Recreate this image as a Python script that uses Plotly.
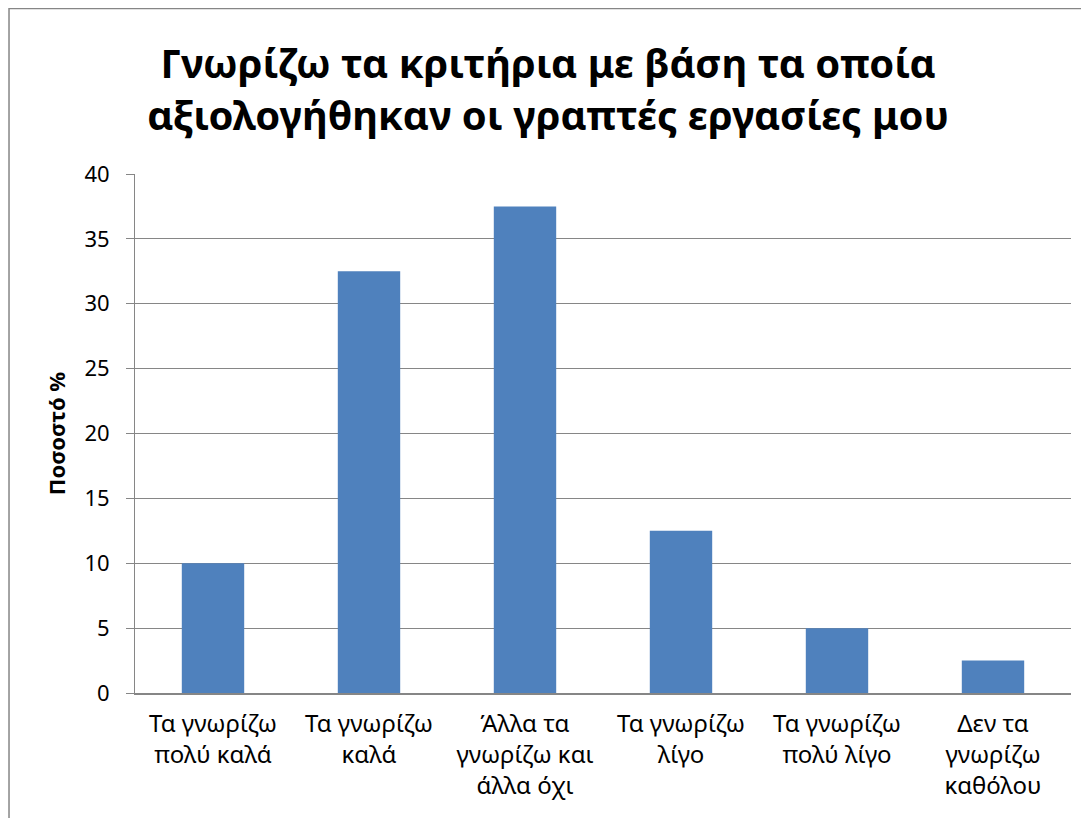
import plotly.graph_objects as go

# Survey answers and percentages
CATEGORIES = [
    "Τα γνωρίζω<br>πολύ καλά",
    "Τα γνωρίζω<br>καλά",
    "Άλλα τα<br>γνωρίζω και<br>άλλα όχι",
    "Τα γνωρίζω<br>λίγο",
    "Τα γνωρίζω<br>πολύ λίγο",
    "Δεν τα<br>γνωρίζω<br>καθόλου",
]
PERCENT = [10, 32.5, 37.5, 12.5, 5, 2.5]
Y_TICKS = [0, 5, 10, 15, 20, 25, 30, 35, 40]

TITLE = "Γνωρίζω τα κριτήρια με βάση τα οποία<br>αξιολογήθηκαν οι γραπτές εργασίες μου"
FONT = "Noto Sans"
GRID = "#868686"
BAR = "#4F81BD"

fig = go.Figure(go.Bar(
    x=CATEGORIES, y=PERCENT,
    marker=dict(color=BAR, line=dict(width=0)),
    width=0.4,
    hovertemplate="%{x}: %{y}%<extra></extra>",
))

# the page adds an 8px body margin, so the margins are shifted by that amount
fig.update_layout(
    width=1089, height=818,
    paper_bgcolor="white", plot_bgcolor="white",
    margin=dict(l=127, r=26, t=166, b=133),
    showlegend=False,
    font=dict(family=FONT, color="black"),
    title=dict(
        text=f"<b>{TITLE}</b>",
        font=dict(family=FONT, size=40, color="black"),
        x=0.496, xanchor="center", xref="container",
        y=0.915, yanchor="middle", yref="container",
    ),
)

fig.update_yaxes(
    range=[0, 40], tickvals=Y_TICKS,
    showgrid=True, gridcolor=GRID, gridwidth=1,
    showline=True, linecolor=GRID, linewidth=1,
    ticks="outside", ticklen=8, tickcolor=GRID,
    ticklabelstandoff=12,
    tickfont=dict(family=FONT, size=22, color="black"),
    title=dict(text="<b>Ποσοστό %</b>", font=dict(family=FONT, size=22, color="black"), standoff=12),
    zeroline=False,
)
fig.update_xaxes(
    showline=True, linecolor=GRID, linewidth=2,
    ticks="", showgrid=False,
    ticklabelstandoff=8,
    tickfont=dict(family=FONT, size=24, color="black"),
    tickangle=0,
)

# chart frame (gray border around the whole chart object)
fig.add_shape(
    type="rect", xref="paper", yref="paper",
    x0=-0.1346, x1=1.1, y0=-0.4, y1=1.319,
    line=dict(color=GRID, width=1.5), fillcolor="rgba(0,0,0,0)", layer="below",
)

fig.write_html("out.html")
